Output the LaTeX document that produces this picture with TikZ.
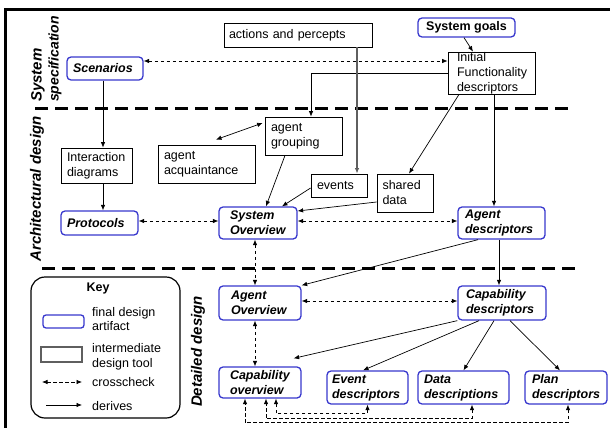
\documentclass[tikz,border=0pt]{standalone}
\usepackage{fontspec}
\setmainfont{Liberation Sans}
\usetikzlibrary{arrows.meta,calc}
\definecolor{fblue}{RGB}{55,55,205}
\definecolor{lgray}{RGB}{95,95,95}
\newcommand\nfs{\fontsize{12.5}{15}\selectfont}
\begin{document}
\begin{tikzpicture}[x=1pt,y=-1pt,
  font=\nfs,
  der/.style={-{Latex[length=5.5pt,width=4.5pt]}, line width=0.7pt},
  dbl/.style={{Latex[length=5.5pt,width=4.5pt]}-{Latex[length=5.5pt,width=4.5pt]}, line width=0.7pt},
  cross/.style={{Latex[length=5.5pt,width=4.5pt]}-{Latex[length=5.5pt,width=4.5pt]}, line width=0.7pt, dash pattern=on 3.5pt off 2.5pt},
  final/.style={draw=fblue, line width=1.3pt, rounded corners=4pt, font=\nfs\bfseries\itshape, align=left, inner ysep=0pt},
  inter/.style={draw, line width=0.8pt, align=left, inner ysep=0pt},
  sepline/.style={line width=3pt, dash pattern=on 13pt off 7pt},
  side/.style={rotate=90, inner sep=0pt, font=\fontsize{15}{18}\selectfont\bfseries\itshape}
]
\useasboundingbox (0,0) rectangle (610,428);
\clip (0,0) rectangle (610,428);
% frame
\draw[line width=3pt] (5,10) rectangle (640,450);
% separators
\draw[sepline] (35,108) -- (572,108);
\draw[sepline] (42,268) -- (578,268);
% side labels
\node[side, anchor=west] (lsys) at (38,102) {System};
\node[side, anchor=west, font=\fontsize{14}{16}\selectfont\bfseries\itshape] (lspec) at (55,102) {specification};
\node[side] (larch) at (37,189) {Architectural design};
\node[side] (ldet) at (198,351.5) {Detailed design};

% nodes
\node[final, text width=64pt, inner xsep=6pt, minimum height=23pt] (scen) at (105,68.5) {Scenarios};
\node[final, font=\nfs\bfseries, minimum width=97pt, minimum height=19pt] (goals) at (466.5,27.5) {System goals};
\node[inter, text width=69pt, inner xsep=9pt, minimum height=42pt] (ifd) at (491.5,73) {Initial\\Functionality\\descriptors};
\node[inter, text width=138pt, inner xsep=5pt, minimum height=24pt] (act) at (298,35) {actions and percepts};
\node[inter, text width=65pt, inner xsep=6pt, minimum height=38pt] (grp) at (303.5,136) {agent\\grouping};
\node[inter, text width=85pt, inner xsep=6pt, minimum height=38pt] (acq) at (206.5,164) {agent\\acquaintance};
\node[inter, text width=59pt, inner xsep=6pt, minimum height=35pt] (idg) at (96.5,165.5) {Interaction\\diagrams};
\node[inter, text width=44pt, inner xsep=6pt, minimum height=23pt] (events) at (339,185.5) {events};
\node[inter, text width=45pt, inner xsep=5.5pt, minimum height=38pt] (shared) at (405,193) {shared\\data};
\node[final, text width=56pt, inner xsep=11pt, minimum height=32pt] (sysov) at (258,223) {System\\Overview};
\node[final, text width=65pt, inner xsep=6pt, minimum height=24pt] (prot) at (99.5,223) {Protocols};
\node[final, text width=73pt, inner xsep=7pt, minimum height=32pt] (agdesc) at (501.5,223) {Agent\\descriptors};
\node[final, text width=58pt, inner xsep=12pt, minimum height=34pt] (agov) at (260,303) {Agent\\Overview};
\node[final, text width=72pt, inner xsep=8pt, minimum height=34pt] (capdesc) at (502,303) {Capability\\descriptors};
\node[final, text width=60pt, inner xsep=11pt, minimum height=31pt] (capov) at (260,382.5) {Capability\\overview};
\node[final, text width=71pt, inner xsep=5pt, minimum height=33pt] (evdesc) at (367.5,387.5) {Event\\descriptors};
\node[final, text width=79pt, inner xsep=6pt, minimum height=33pt] (datadesc) at (463.5,387.5) {Data\\descriptions};
\node[final, text width=68pt, inner xsep=7pt, minimum height=33pt] (plandesc) at (566,387.5) {Plan\\descriptors};

% key
\node[draw, rounded corners=14pt, line width=1.2pt, minimum width=149pt, minimum height=141pt, inner sep=0pt] (key) at (105.5,347.5) {};
\node[font=\nfs\bfseries, inner sep=0pt] (keyt) at (98,288) {Key};
\node[draw=fblue, line width=1.3pt, rounded corners=3pt, minimum width=41pt, minimum height=13pt, inner sep=0pt] (kfin) at (63.5,321.5) {};
\node[anchor=west, align=left, font=\fontsize{12.5}{14.5}\selectfont, inner sep=0pt] (kfint) at (92,319) {final design\\artifact};
\node[draw=lgray, line width=1.3pt, minimum width=41pt, minimum height=15pt, inner sep=0pt] (kint) at (61.5,354.5) {};
\node[anchor=west, align=left, font=\fontsize{12.5}{15.5}\selectfont, inner sep=0pt] (kintt) at (92,357) {intermediate\\design tool};
\coordinate (kc1) at (42,382);
\coordinate (kc2) at (82,382);
\draw[cross] (kc1) -- (kc2);
\node[anchor=west, inner sep=0pt] (kct) at (92,382) {crosscheck};
\coordinate (kd1) at (46,405);
\coordinate (kd2) at (82,405);
\draw[der] (kd1) -- (kd2);
\node[anchor=west, inner sep=0pt] (kdt) at (92,406) {derives};

% connectors
\draw[der] ($(goals.south)+(-2.5,0)$) -- ($(ifd.north)+(-18.5,0)$);
\draw[cross] ($(scen.east)+(0,-7.5)$) coordinate (c1) -- (c1 -| ifd.west);
\draw[der] (ifd.west) -| ($(grp.north)+(7.5,0)$);
\draw[der, draw=lgray, line width=1.1pt] ($(act.south)+(59,0)$) coordinate (c2) -- (c2 |- events.north);
\draw[der] ($(ifd.south)+(-32.5,0)$) -- ($(shared.north)+(4,0)$);
\draw[der] ($(ifd.south)+(2.5,0)$) coordinate (c3) -- (c3 |- agdesc.north);
\draw[der] ($(scen.south)+(-2,0)$) coordinate (c4) -- (c4 |- idg.north);
\draw[der] (c4 |- idg.south) -- (c4 |- prot.north);
\draw[dbl] ($(acq.north)+(9.5,-5)$) -- ($(grp.west)+(-2,-13)$);
\draw[der] ($(grp.south)+(-18.5,0)$) -- ($(sysov.north)+(8,0)$);
\draw[der] ($(events.west)+(0,2.5)$) -- ($(sysov.north)+(24,0)$);
\draw[der] ($(shared.west)+(0,9)$) -- ($(sysov.east)+(0,-12)$);
\draw[cross] ($(prot.east)+(0,-2)$) coordinate (c5) -- (c5 -| sysov.west);
\draw[cross] ($(sysov.east)+(0,-2)$) coordinate (c6) -- (c6 -| agdesc.west);
\draw[cross] ($(sysov.south)+(-3,0)$) coordinate (c7) -- (c7 |- agov.north);
\draw[der] ($(agdesc.south)+(-23.5,0)$) -- (agov.north east);
\draw[der] ($(agdesc.south)+(-2.5,0)$) coordinate (c8) -- (c8 |- capdesc.north);
\draw[cross] ($(agov.east)+(0,-2)$) coordinate (c9) -- (c9 -| capdesc.west);
\draw[cross] ($(agov.south)+(-5,0)$) coordinate (c10) -- (c10 |- capov.north);
\draw[der] (capdesc.south west) -- ($(capov.north east)+(-8,-8)$);
\draw[der] ($(capdesc.south)+(-23,0)$) -- ($(evdesc.north)+(-4.5,0)$);
\draw[der] ($(capdesc.south)+(-8,0)$) -- (datadesc.north);
\draw[der] ($(capdesc.south)+(8,0)$) -- ($(plandesc.north)+(-6,0)$);
\draw[cross] (evdesc.south) -- ++(0,9) -| ($(capov.south)+(16,0)$);
\draw[cross] ($(datadesc.south)+(8.5,0)$) -- ++(0,14) -| ($(capov.south)+(6,0)$);
\draw[cross] ($(plandesc.south)+(2,0)$) -- ++(0,18) -| ($(capov.south)+(-15,0)$);
\end{tikzpicture}
\end{document}
